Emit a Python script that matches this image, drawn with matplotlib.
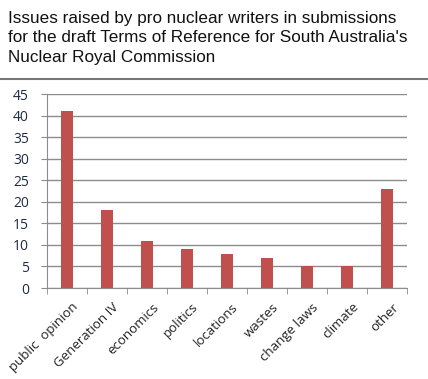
import numpy as np
import matplotlib.pyplot as plt

# issue categories and number of submissions raising them
categories = ['public  opinion', 'Generation IV', 'economics', 'politics', 'locations',
              'wastes', 'change laws', 'climate', 'other']
counts = [41, 18, 11, 9, 8, 7, 5, 5, 23]
yticks = [0, 5, 10, 15, 20, 25, 30, 35, 40, 45]

fig = plt.figure(figsize=(4.28, 3.79), dpi=100)

fig.text(0.019, 0.972,
         "Issues raised by pro nuclear writers in submissions\n"
         "for the draft Terms of Reference for South Australia's\n"
         "Nuclear Royal Commission",
         ha='left', va='top', fontsize=12.3, family='Liberation Sans',
         linespacing=1.38, color='#111111')
fig.add_artist(plt.Line2D([0, 1], [1 - 79/379, 1 - 79/379], color='#777777', lw=1.5))

ax = fig.add_axes([47/428, 1 - 288/379, 360/428, 194/379])
x = np.arange(len(categories))
ax.bar(x, counts, width=0.28, color='#C0504D', zorder=3)

ax.set_xlim(-0.5, len(categories) - 0.5)
ax.set_ylim(0, 45)
ax.set_yticks(yticks)
ax.yaxis.grid(True, color='#8C8C8C', lw=1)
ax.set_axisbelow(True)
for s in ['top', 'right']:
    ax.spines[s].set_visible(False)
ax.spines['left'].set_color('#8C8C8C')
ax.spines['bottom'].set_color('#8C8C8C')

ax.set_xticks(x + 0.12)
ax.set_xticklabels(categories, rotation=45, ha='right', rotation_mode='anchor',
                   fontsize=9.5, family='Open Sans', color='#222222')
ax.tick_params(axis='x', length=0, pad=9)
ax.set_xticks(np.arange(-0.5, len(categories)), minor=True)
ax.tick_params(axis='x', which='minor', length=4, color='#8C8C8C')
ax.tick_params(axis='y', length=4, color='#8C8C8C', labelsize=10, labelcolor='#1F2A44', pad=9)
for lab in ax.get_yticklabels():
    lab.set_family('Open Sans')

fig.savefig('out.png', dpi=100)
